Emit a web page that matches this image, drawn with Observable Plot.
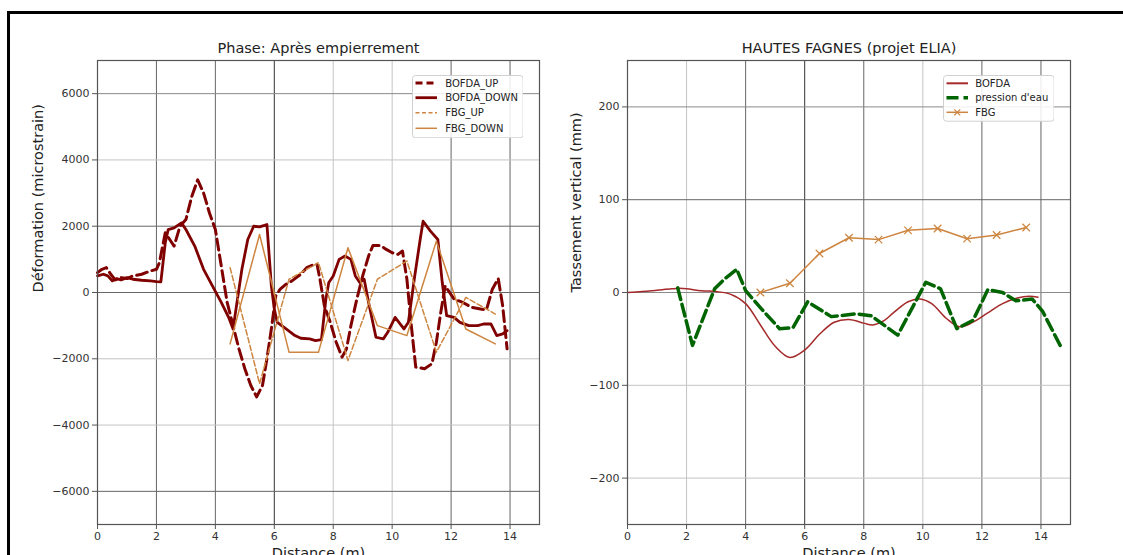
<!DOCTYPE html>
<html><head><meta charset="utf-8">
<script src="https://cdn.jsdelivr.net/npm/d3@7"></script>
<script src="https://cdn.jsdelivr.net/npm/@observablehq/plot@0.6"></script>
<style>
html,body{margin:0;padding:0;background:#fff}
body{width:1123px;height:555px;overflow:hidden;position:relative;font-family:"DejaVu Sans",sans-serif}
#frame{position:absolute;left:7px;top:11px;width:1300px;height:800px;border-left:3px solid #000;border-top:3px solid #000;box-sizing:border-box}
#left,#right{position:absolute;top:0}
#left{left:0}
#right{left:560px}
.legend{position:absolute}
</style></head>
<body>
<div id="frame"></div>
<div id="left"></div>
<div id="right"></div>
<script>
// ---------- DATA ----------
const xTicks = [0, 2, 4, 6, 8, 10, 12, 14];
const leftYTicks = [-6000, -4000, -2000, 0, 2000, 4000, 6000];
const rightYTicks = [-200, -100, 0, 100, 200];

const leftTitle = "Phase: Après empierrement";
const rightTitle = "HAUTES FAGNES (projet ELIA)";
const xLabel = "Distance (m)";
const leftYLabel = "Déformation (microstrain)";
const rightYLabel = "Tassement vertical (mm)";

const leftSeriesNames = ["BOFDA_UP", "BOFDA_DOWN", "FBG_UP", "FBG_DOWN"];
const rightSeriesNames = ["BOFDA", "pression d'eau", "FBG"];

const bofdaUpX = [0, 0.15, 0.3, 0.45, 0.6, 0.8, 1.0, 1.2, 1.5, 1.8, 2.0, 2.1, 2.3, 2.45, 2.6, 2.8, 3.0, 3.2, 3.4, 3.6, 3.8, 4.0, 4.2, 4.4, 4.6, 4.8, 5.0, 5.2, 5.4, 5.6, 5.75, 5.9, 6.05, 6.2, 6.4, 6.6, 6.9, 7.1, 7.35, 7.45, 7.55, 7.7, 7.9, 8.1, 8.3, 8.45, 8.6, 8.8, 9.0, 9.2, 9.35, 9.6, 9.8, 10.0, 10.2, 10.35, 10.5, 10.65, 10.8, 11.1, 11.35, 11.5, 11.65, 11.8, 11.95, 12.1, 12.4, 12.7, 13.0, 13.2, 13.4, 13.6, 13.75, 13.9];
const bofdaUpY = [600, 700, 750, 550, 380, 450, 420, 500, 550, 650, 700, 900, 1800, 1600, 1400, 2000, 2200, 2900, 3400, 3000, 2400, 1900, 800, -300, -1000, -1700, -2300, -2800, -3150, -2800, -2000, -1100, -100, 100, 250, 350, 550, 750, 850, 850, 400, -400, -900, -1500, -1950, -1700, -1000, -200, 500, 1100, 1420, 1420, 1300, 1200, 1150, 1250, 400, -1000, -2250, -2300, -2150, -1500, -600, 200, 0, -200, -300, -450, -500, -520, 100, 420, -400, -1700];

const bofdaDownX = [0, 0.2, 0.35, 0.5, 0.65, 0.8, 1.0, 1.2, 1.5, 1.8, 2.0, 2.15, 2.3, 2.4, 2.6, 2.85, 3.0, 3.3, 3.6, 3.9, 4.2, 4.45, 4.6, 4.75, 4.9, 5.1, 5.3, 5.5, 5.75, 5.9, 6.0, 6.1, 6.4, 6.7, 6.9, 7.2, 7.4, 7.6, 7.75, 7.85, 8.0, 8.2, 8.4, 8.6, 8.75, 8.9, 9.05, 9.2, 9.45, 9.7, 9.85, 10.1, 10.4, 10.55, 10.75, 10.95, 11.05, 11.3, 11.55, 11.7, 11.85, 12.1, 12.3, 12.6, 12.9, 13.1, 13.35, 13.55, 13.75, 13.9];
const bofdaDownY = [500, 550, 500, 350, 420, 380, 450, 400, 370, 350, 330, 320, 1500, 1900, 1950, 2100, 1900, 1400, 700, 200, -300, -750, -1100, -200, 700, 1600, 2000, 1980, 2050, 200, -500, -900, -1100, -1300, -1380, -1400, -1450, -1420, -200, 300, 500, 1000, 1100, 1000, 500, 300, 400, -300, -1350, -1400, -1200, -750, -1100, -900, 400, 1600, 2150, 1850, 1600, 300, -700, -750, -900, -1000, -1000, -950, -950, -1300, -1250, -1150];

const fbgLeftX = [4.5, 5.5, 6.5, 7.5, 8.5, 9.5, 10.5, 11.5, 12.5, 13.5];
const fbgUpY = [750, -2750, 400, 900, -2050, 400, 950, -1800, -150, -650];
const fbgDownY = [-1550, 1750, -1800, -1800, 1350, -1000, -1300, 1550, -1100, -1550];

const bofdaRightX = [0, 0.5, 1.0, 1.5, 1.75, 2.0, 2.5, 3.0, 3.5, 4.0, 4.5, 5.0, 5.5, 6.0, 6.5, 7.0, 7.5, 8.0, 8.3, 8.7, 9.0, 9.5, 9.9, 10.3, 10.8, 11.25, 11.7, 12.2, 12.7, 13.2, 13.6, 13.9];
const bofdaRightY = [0, 1, 2.5, 4, 4.5, 4, 2, 1, -2, -12, -35, -58, -70, -62, -45, -32, -29, -33, -35, -30, -22, -10, -7, -12, -28, -37, -32, -22, -12, -6, -4, -5];

const pressionX = [1.7, 2.2, 2.95, 3.3, 3.7, 4.0, 4.6, 5.15, 5.6, 6.1, 6.9, 7.75, 8.25, 9.15, 10.1, 10.6, 11.15, 11.7, 12.2, 12.7, 13.15, 13.7, 14.05, 14.65];
const pressionY = [5, -57, 4, 15, 25, 2, -20, -39, -38, -10, -26, -23, -25, -46, 11, 4, -39, -30, 3, 0, -9, -7, -20, -57];

const fbgRightX = [4.5, 5.5, 6.5, 7.5, 8.5, 9.5, 10.5, 11.5, 12.5, 13.5];
const fbgRightY = [0, 10, 42, 59, 57, 67, 69, 58, 62, 70];

// ---------- STYLES ----------
const C_BOFDA = "#800000", C_FBG = "#cd853f", C_BOFDA_R = "#a52a2a", C_GREEN = "#006400";
const FONT = "DejaVu Sans";
const shade = {k: "#333", d: "#666", m: "#8a8a8a", l: "#c4c4c4"};
const leftXShades = [null, "d", "d", "k", "l", "l", "d", "d"];
const leftYShades = ["d", "l", "l", "d", "d", "l", "m"];
const rightXShades = [null, "l", "d", "k", "d", "l", "d", "d"];
const rightYShades = ["l", "l", "m", "d", "m"];

const fmt = d => d < 0 ? "\u2212" + Math.abs(d) : String(d);
const pts = (xs, ys) => xs.map((x, i) => ({x, y: ys[i]}));

function grid(xt, xs, yt, ys) {
  const m = [];
  xt.forEach((t, i) => { if (xs[i]) m.push(Plot.ruleX([t], {stroke: shade[xs[i]], strokeWidth: 1})); });
  yt.forEach((t, i) => { if (ys[i]) m.push(Plot.ruleY([t], {stroke: shade[ys[i]], strokeWidth: 1})); });
  return m;
}

function common(title, ylabel, yticks, ylabelDx) {
  return [
    Plot.frame({stroke: "#555", strokeWidth: 1.2}),
    Plot.axisX({ticks: xTicks, tickSize: 5, tickPadding: 3, tickFormat: fmt, label: null, stroke: "#555", fill: "#333"}),
    Plot.axisY({ticks: yticks, tickSize: 5, tickPadding: 3, tickFormat: fmt, label: null, stroke: "#555", fill: "#333"}),
    Plot.text([title], {text: d => d, frameAnchor: "top", dy: -12, lineAnchor: "middle", fontSize: 14.5, fill: "#222"}),
    Plot.text([xLabel], {text: d => d, frameAnchor: "bottom", dy: 23, lineAnchor: "top", fontSize: 14.5, fill: "#222"}),
    Plot.text([ylabel], {text: d => d, frameAnchor: "left", rotate: -90, dx: ylabelDx, lineAnchor: "middle", fontSize: 14.5, fill: "#222"})
  ];
}

// ---------- LEFT ----------
const leftPlot = Plot.plot({
  width: 560, height: 555,
  marginLeft: 97, marginRight: 21, marginTop: 60, marginBottom: 31,
  style: {fontFamily: FONT, fontSize: "11px", background: "transparent", overflow: "visible"},
  x: {domain: [0, 15]},
  y: {domain: [-7000, 7000]},
  marks: [
    ...grid(xTicks, leftXShades, leftYTicks, leftYShades),
    Plot.line(pts(bofdaUpX, bofdaUpY), {x: "x", y: "y", stroke: C_BOFDA, strokeWidth: 3, strokeDasharray: "11,5"}),
    Plot.line(pts(bofdaDownX, bofdaDownY), {x: "x", y: "y", stroke: C_BOFDA, strokeWidth: 2.8}),
    Plot.line(pts(fbgLeftX, fbgUpY), {x: "x", y: "y", stroke: C_FBG, strokeWidth: 1.5, strokeDasharray: "5.5,2.5"}),
    Plot.line(pts(fbgLeftX, fbgDownY), {x: "x", y: "y", stroke: C_FBG, strokeWidth: 1.5}),
    ...common(leftTitle, leftYLabel, leftYTicks, -59)
  ]
});
document.getElementById("left").appendChild(leftPlot);

// ---------- RIGHT ----------
const rightPlot = Plot.plot({
  width: 563, height: 555,
  marginLeft: 67, marginRight: 53, marginTop: 60, marginBottom: 31,
  style: {fontFamily: FONT, fontSize: "11px", background: "transparent", overflow: "visible"},
  x: {domain: [0, 15]},
  y: {domain: [-250, 250]},
  marks: [
    ...grid(xTicks, rightXShades, rightYTicks, rightYShades),
    Plot.line(pts(bofdaRightX, bofdaRightY), {x: "x", y: "y", stroke: C_BOFDA_R, strokeWidth: 1.5, curve: "catmull-rom"}),
    Plot.line(pts(pressionX, pressionY), {x: "x", y: "y", stroke: C_GREEN, strokeWidth: 3.5, strokeDasharray: "12,5"}),
    Plot.line(pts(fbgRightX, fbgRightY), {x: "x", y: "y", stroke: C_FBG, strokeWidth: 1.5}),
    Plot.dot(pts(fbgRightX, fbgRightY), {x: "x", y: "y", symbol: "times", r: 3.5, stroke: C_FBG, strokeWidth: 1.2}),
    ...common(rightTitle, rightYLabel, rightYTicks, -51)
  ]
});
document.getElementById("right").appendChild(rightPlot);

// ---------- LEGENDS ----------
function legend(left, top, w, h, names, styles, rows, textX) {
  const ns = "http://www.w3.org/2000/svg";
  const svg = document.createElementNS(ns, "svg");
  svg.setAttribute("width", w); svg.setAttribute("height", h);
  svg.setAttribute("class", "legend");
  svg.style.left = left + "px"; svg.style.top = top + "px";
  const r = document.createElementNS(ns, "rect");
  Object.entries({x: 0.5, y: 0.5, width: w - 1, height: h - 1, rx: 3, fill: "rgba(255,255,255,0.85)", stroke: "#d0d0d0"}).forEach(([k, v]) => r.setAttribute(k, v));
  svg.appendChild(r);
  names.forEach((n, i) => {
    const s = styles[i], y = rows[i];
    const l = document.createElementNS(ns, "line");
    Object.entries({x1: 3.5, x2: 25, y1: y, y2: y, stroke: s.c, "stroke-width": s.w}).forEach(([k, v]) => l.setAttribute(k, v));
    if (s.dash) l.setAttribute("stroke-dasharray", s.dash);
    svg.appendChild(l);
    if (s.marker) {
      const p = document.createElementNS(ns, "path");
      const cx = 14.25, d = 3;
      p.setAttribute("d", `M${cx - d},${y - d}L${cx + d},${y + d}M${cx - d},${y + d}L${cx + d},${y - d}`);
      p.setAttribute("stroke", s.c); p.setAttribute("stroke-width", 1.2);
      svg.appendChild(p);
    }
    const t = document.createElementNS(ns, "text");
    t.setAttribute("x", textX); t.setAttribute("y", y); t.setAttribute("dy", "0.35em");
    t.setAttribute("font-size", 10); t.setAttribute("font-family", FONT); t.setAttribute("fill", "#222");
    t.textContent = n;
    svg.appendChild(t);
  });
  document.body.appendChild(svg);
}
legend(411.7, 75, 111.6, 63.3, leftSeriesNames, [
  {c: C_BOFDA, w: 3, dash: "7,4"},
  {c: C_BOFDA, w: 2.8},
  {c: C_FBG, w: 1.5, dash: "4,2.5"},
  {c: C_FBG, w: 1.5}
], [8, 22.7, 37.7, 53.3], 33.3);
legend(942.7, 75, 111.6, 46.7, rightSeriesNames, [
  {c: C_BOFDA_R, w: 2},
  {c: C_GREEN, w: 3.5, dash: "12,5"},
  {c: C_FBG, w: 1.5, marker: true}
], [8.3, 22.7, 37.3], 32.3);
</script>
</body></html>
